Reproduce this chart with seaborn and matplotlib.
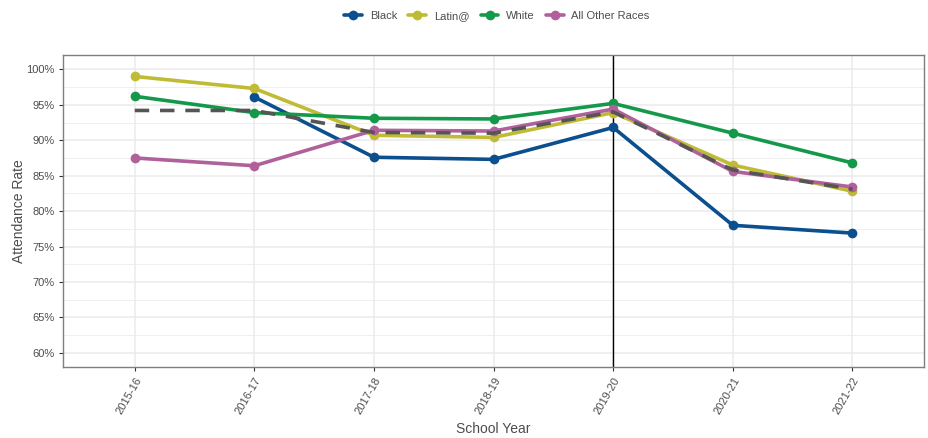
import matplotlib
matplotlib.use("Agg")
import matplotlib.pyplot as plt
from matplotlib.ticker import MultipleLocator, FuncFormatter
import seaborn as sns
import pandas as pd

# Данные
years = ["2015-16", "2016-17", "2017-18", "2018-19", "2019-20", "2020-21", "2021-22"]
black = [None, 96.1, 87.6, 87.3, 91.8, 78.0, 76.9]
latin = [99.0, 97.3, 90.7, 90.4, 93.9, 86.5, 82.8]
white = [96.2, 93.9, 93.1, 93.0, 95.2, 91.0, 86.8]
other = [87.5, 86.4, 91.4, 91.3, 94.4, 85.6, 83.4]
overall = [94.2, 94.2, 91.1, 91.0, 94.0, 85.8, 83.1]

groups = ["Black", "Latin@", "White", "All Other Races"]
colors = ["#0b4f8f", "#c0bb35", "#14994b", "#b0619b"]

rows = []
for g, vals in zip(groups, [black, latin, white, other]):
    for i, v in enumerate(vals):
        if v is not None:
            rows.append({"pos": i, "year": years[i], "group": g, "rate": v})
df = pd.DataFrame(rows)
df_all = pd.DataFrame({"pos": range(len(years)), "year": years, "rate": overall})

sns.set_style("white")
plt.rcParams["font.family"] = ["Liberation Sans", "DejaVu Sans"]

fig = plt.figure(figsize=(9.29, 4.38), dpi=100)
ax = fig.add_axes([0.0678, 0.162, 0.927, 0.712])

# сетка
ax.yaxis.set_major_locator(MultipleLocator(5))
ax.yaxis.set_minor_locator(MultipleLocator(2.5))
ax.grid(True, which="major", color="#ebebeb", linewidth=1.1)
ax.grid(True, which="minor", axis="y", color="#ebebeb", linewidth=0.55)
ax.set_axisbelow(True)

sns.lineplot(data=df, x="pos", y="rate", hue="group", hue_order=groups,
             palette=colors, marker="o", markersize=7, markeredgewidth=0,
             linewidth=2.6, ax=ax, errorbar=None)
sns.lineplot(data=df_all, x="pos", y="rate", color="#555555", linewidth=2.6,
             linestyle=(0, (4, 3)), ax=ax, errorbar=None)

ax.axvline(4, color="black", linewidth=1.0, zorder=1.5)

ax.set_xlim(-0.6, 6.6)
ax.set_ylim(58, 102)
ax.yaxis.set_major_formatter(FuncFormatter(lambda v, p: f"{v:.0f}%"))
ax.set_xticks(range(len(years)))
ax.set_xticklabels(years, rotation=60, ha="right", rotation_mode="anchor")
ax.tick_params(axis="both", labelsize=8, labelcolor="#4d4d4d", colors="#333333",
               length=3, width=0.8, left=True, bottom=True, pad=3)
ax.tick_params(axis="both", which="minor", length=0)
for s in ax.spines.values():
    s.set_color("#7f7f7f")
    s.set_linewidth(1.0)

ax.set_xlabel("School Year", fontsize=10, color="#4d4d4d", labelpad=4)
ax.set_ylabel("Attendance Rate", fontsize=10, color="#4d4d4d", labelpad=0)

handles, labels = ax.get_legend_handles_labels()
ax.get_legend().remove()
fig.legend(handles[:4], labels[:4], loc="center", bbox_to_anchor=(0.535, 0.963),
           ncol=4, frameon=False, fontsize=8, labelcolor="#4d4d4d",
           handlelength=1.6, columnspacing=1.0, handletextpad=0.7)

fig.savefig("out.png", dpi=100)
plt.close()
